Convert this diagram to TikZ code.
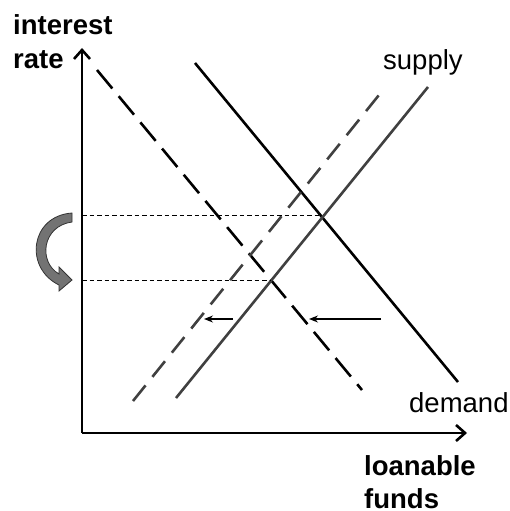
\documentclass[tikz,border=0pt]{standalone}
\usepackage{fontspec}
\setmainfont{Liberation Sans}
\usetikzlibrary{arrows.meta, positioning, calc}

\begin{document}
\begin{tikzpicture}[
    x=1pt, y=-1pt,
    axis/.style={line width=2.6pt, -{Straight Barb[length=9pt, width=16pt, line width=2.6pt]}},
    demand/.style={line width=2.6pt, black},
    supply/.style={line width=2.6pt, black!75},
    shifted/.style={dash pattern=on 24pt off 10pt},
    level/.style={line width=0.9pt, dash pattern=on 4.5pt off 3pt},
    shiftarrow/.style={line width=1.3pt, -{Stealth[length=9pt, width=7pt]}},
    curvelbl/.style={inner sep=0pt, font=\fontsize{27.5}{33}\selectfont},
    axislbl/.style={curvelbl, font=\fontsize{27.5}{33}\selectfont\bfseries, align=left}
]
    \useasboundingbox (0,0) rectangle (509,511);

    % axes
    \coordinate (origin) at (82,433);
    \coordinate (ytip) at (82,48);
    \coordinate (xtip) at (467,433);
    \draw[axis] (origin) -- (ytip);
    \draw[axis] (origin) -- (xtip);

    \node[axislbl, anchor=base west] (rate) at (13,68) {interest\\rate};
    \node[axislbl, anchor=base west] (funds) at (364,508) {loanable\\funds};

    % curves
    \coordinate (dtop) at (195,63);
    \coordinate (dbot) at (458,382);
    \coordinate (ndtop) at (97,70);
    \coordinate (ndbot) at (362,390);
    \coordinate (sbot) at (176,398);
    \coordinate (stop) at (428,87);
    \coordinate (nsbot) at (133,401);
    \coordinate (nstop) at (383,90);

    \draw[demand] (dtop) -- (dbot);
    \draw[demand, shifted] (ndtop) -- (ndbot);
    \draw[supply] (sbot) -- (stop);
    \draw[supply, shifted, dash pattern=on 20pt off 11pt] (nsbot) -- (nstop);

    \node[curvelbl, anchor=base west] (supplylbl) at (383,70) {supply};
    \node[curvelbl, anchor=base west] (demandlbl) at (409,412) {demand};

    % equilibrium rates
    \coordinate (eold) at (321,215);
    \coordinate (enew) at (271,280);
    \coordinate (rold) at (82,215);
    \coordinate (rnew) at (82,280);
    \draw[level] (rold) -- (eold);
    \draw[level] (rnew) -- (enew);

    % shift arrows
    \coordinate (a1) at (233,319);
    \coordinate (a1end) at (204,319);
    \coordinate (a2) at (381,319);
    \coordinate (a2end) at (309,319);
    \draw[shiftarrow] (a1) -- (a1end);
    \draw[shiftarrow] (a2) -- (a2end);

    % fall of the rate
    \fill[black!55, draw=black!80, line width=0.8pt]
        (72,213) .. controls (30,216) and (24,268) .. (59,285)
        -- (59,291) -- (72,280) -- (59,267) -- (59,274)
        .. controls (38,262) and (42,226) .. (72,222) -- cycle;
\end{tikzpicture}
\end{document}
